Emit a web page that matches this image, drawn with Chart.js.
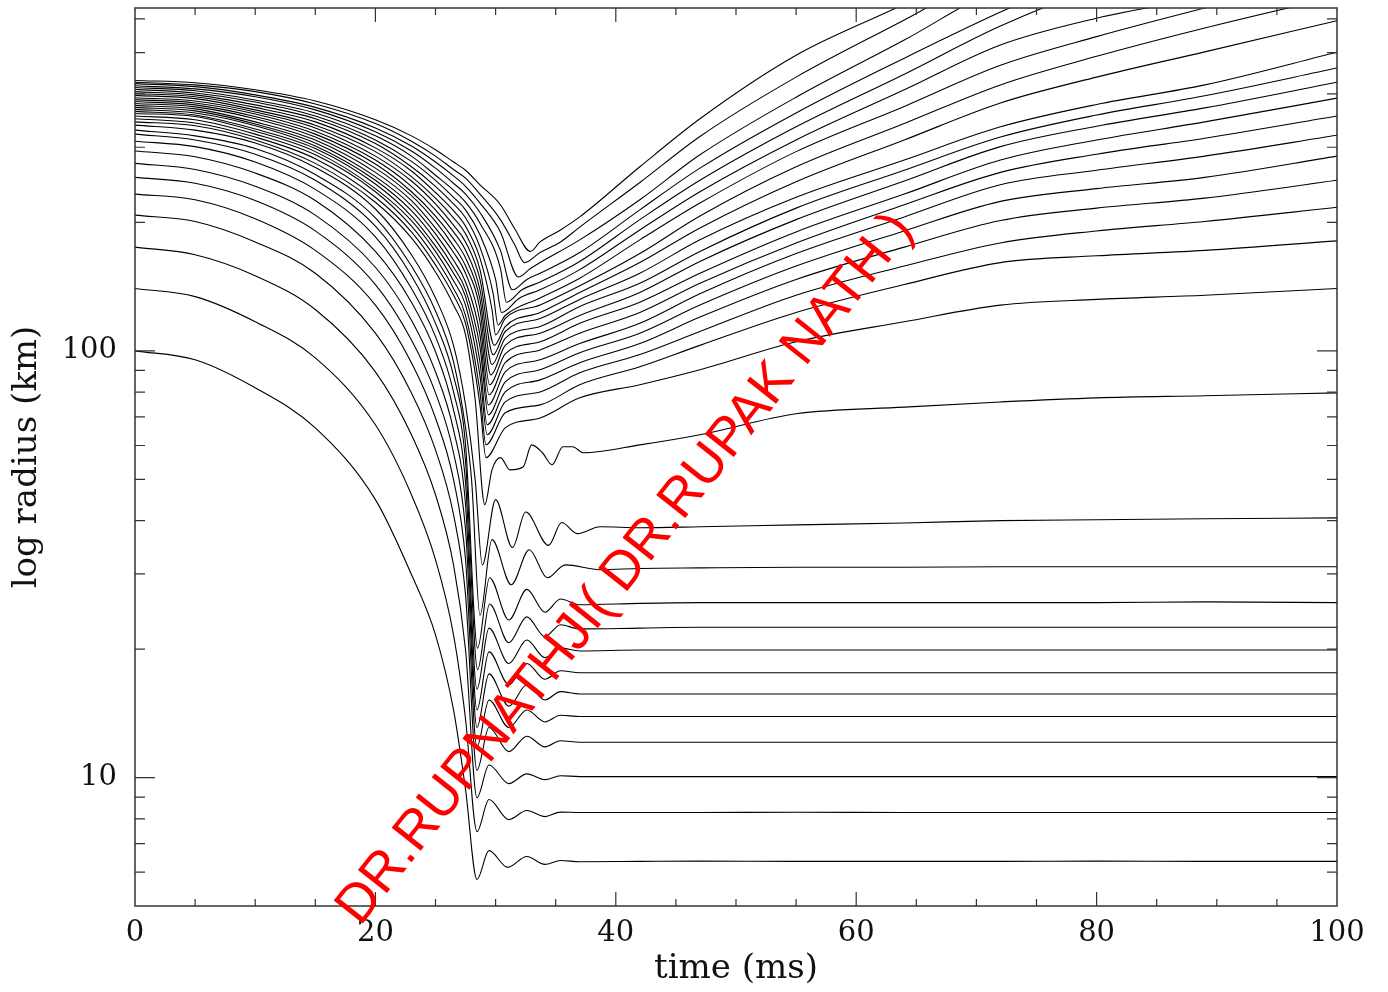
<!DOCTYPE html>
<html>
<head>
<meta charset="utf-8">
<script src="https://cdn.jsdelivr.net/npm/chart.js@4.4.1/dist/chart.umd.min.js"></script>
<style>
  html, body { margin: 0; padding: 0; background: #fff; }
  #wrap { width: 1388px; height: 992px; }
</style>
</head>
<body>
<div id="wrap"><canvas id="radius"></canvas></div>
<script>
// collapse phase, shared time grid (ms)
var collapseTimes = [0, 5, 10, 15, 20, 23, 25, 26.5, 27.5];

// radius (km) of each mass shell on collapseTimes, innermost first
var collapseRadius = [
    [100, 95.3, 81.9, 66.0, 44.8, 29.9, 21.6, 14.4, 9.37],
    [140, 134, 117, 96.3, 67.1, 46.0, 32.4, 21.6, 13.7],
    [175, 168, 150, 125, 89.3, 63.6, 46.0, 31.5, 19.9],
    [208, 201, 180, 152, 110, 79.7, 58.6, 41.3, 26.8],
    [233, 226, 204, 172, 128, 93.8, 69.6, 49.9, 32.4],
    [255, 247, 225, 191, 143, 106, 79.7, 57.7, 38.1],
    [275, 266, 243, 208, 157, 118, 89.3, 65.3, 43.6],
    [294, 285, 261, 225, 171, 130, 99.5, 72.7, 49.1],
    [310, 301, 277, 239, 185, 140, 108, 80.1, 55.0],
    [322, 312, 289, 251, 196, 150, 116, 87.4, 60.2],
    [329, 319, 298, 259, 205, 158, 124, 94.2, 66.0],
    [338, 329, 307, 269, 215, 168, 133, 103, 74.7],
    [344, 337, 312, 275, 223, 184, 153, 128, 109],
    [350, 342, 317, 282, 229, 190, 159, 135, 116],
    [355, 348, 322, 288, 236, 196, 165, 140, 121],
    [360, 354, 327, 293, 240, 202, 171, 146, 128],
    [364, 357, 331, 298, 246, 207, 176, 152, 134],
    [368, 361, 337, 302, 251, 213, 182, 157, 139],
    [372, 365, 340, 307, 256, 219, 188, 163, 145],
    [376, 369, 344, 312, 262, 225, 194, 170, 152],
    [380, 373, 350, 317, 268, 231, 201, 176, 158],
    [384, 377, 354, 322, 274, 236, 207, 183, 165],
    [388, 381, 359, 327, 280, 243, 214, 190, 172],
    [392, 385, 363, 333, 286, 250, 221, 197, 180],
    [397, 390, 367, 338, 293, 256, 228, 205, 188],
    [401, 394, 372, 344, 299, 264, 235, 213, 196],
    [405, 398, 377, 350, 306, 270, 243, 221, 205],
    [410, 402, 383, 355, 312, 278, 251, 229, 214],
    [414, 407, 387, 361, 319, 286, 258, 238, 223],
    [418, 411, 394, 367, 326, 294, 268, 247, 233],
    [423, 416, 398, 372, 333, 302, 277, 257, 243],
    [426, 420, 405, 379, 341, 310, 286, 266, 254],
    [430, 425, 409, 385, 348, 319, 296, 277, 265]
];

// bounce and ringing, [time ms, radius km] per shell
var bounce = [
    [[28.45, 5.77], [29.45, 6.74], [31.0, 6.16], [32.6, 6.53], [34.1, 6.26], [35.4, 6.39], [37.0, 6.35]],
    [[28.45, 7.47], [29.45, 8.88], [31.1, 7.97], [32.6, 8.37], [34.1, 8.10], [35.4, 8.30], [37.0, 8.28]],
    [[28.45, 8.97], [29.45, 10.7], [31.1, 9.68], [32.6, 10.2], [34.1, 9.89], [35.4, 10.1], [37.0, 10.05]],
    [[28.45, 10.4], [29.45, 13.1], [31.1, 11.5], [32.6, 12.5], [34.1, 11.8], [35.4, 12.2], [37.0, 12.1]],
    [[28.45, 11.8], [29.45, 15.2], [31.1, 13.1], [32.6, 14.4], [34.1, 13.5], [35.4, 14.0], [37.0, 13.9]],
    [[28.45, 13.1], [29.45, 17.5], [31.1, 14.7], [32.6, 16.5], [34.1, 15.2], [35.4, 15.9], [37.0, 15.7]],
    [[28.45, 14.4], [29.45, 19.7], [31.1, 16.5], [32.6, 18.5], [34.1, 17.0], [35.4, 17.8], [37.0, 17.6]],
    [[28.45, 16.1], [29.45, 22.4], [31.1, 18.5], [32.6, 21.0], [34.1, 19.1], [35.4, 20.1], [37.0, 19.8]],
    [[28.5, 17.9], [29.5, 25.5], [31.1, 20.7], [32.6, 23.8], [34.1, 21.4], [35.4, 22.8], [37.0, 22.3]],
    [[28.5, 20.1], [29.5, 29.4], [31.1, 23.4], [32.6, 27.6], [34.1, 24.4], [35.4, 26.2], [37.0, 25.4]],
    [[28.0, 49.9], [28.7, 24.0], [29.7, 36.1], [31.3, 28.3], [32.8, 34.2], [34.3, 29.4], [35.8, 31.5], [38.7, 30.7]],
    [[28.3, 49.9], [28.9, 31.5], [30.0, 44.8], [31.4, 34.6], [32.5, 41.9], [34.4, 35.0], [35.5, 39.6], [36.8, 37.3], [38.7, 38.7]],
    [[28.3, 76.8], [29.1, 43.6], [29.7, 52.6], [30.4, 56.2], [31.2, 52.6], [32.3, 53.5], [33.0, 60.2], [33.9, 57.7], [34.7, 54.1], [35.6, 59.6], [36.4, 59.6], [37.3, 57.7]],
    [[28.7, 74.7], [29.2, 56.2], [30.8, 66.0], [33.7, 69.6], [37.0, 77.6]],
    [[28.7, 80.1], [29.2, 60.2], [30.8, 71.6], [33.7, 74.7], [37.0, 83.3]],
    [[28.7, 87.4], [29.3, 63.6], [30.8, 75.9], [33.7, 80.1], [37.0, 88.8]],
    [[28.7, 94.2], [29.3, 67.1], [30.8, 80.1], [33.7, 85.5], [37.0, 93.8]],
    [[28.7, 102], [29.4, 70.8], [30.8, 84.6], [33.7, 90.3], [37.0, 99.0]],
    [[28.7, 109], [29.4, 74.7], [30.8, 89.3], [33.7, 95.3], [37.0, 104]],
    [[28.7, 117], [29.45, 78.9], [30.8, 93.8], [33.7, 100.5], [37.0, 110]],
    [[28.7, 125], [29.5, 83.3], [30.8, 98.4], [33.7, 105], [37.0, 116]],
    [[28.7, 132], [29.6, 87.8], [30.8, 103], [33.7, 110], [37.0, 121]],
    [[28.7, 139], [29.7, 92.8], [30.8, 107], [33.7, 114], [37.0, 127]],
    [[28.7, 147], [29.8, 97.9], [30.8, 111], [33.7, 119], [37.0, 132]],
    [[28.7, 155], [29.9, 103], [30.8, 114], [33.7, 123], [37.0, 137]],
    [[28.7, 165], [29.7, 125], [30.0, 109], [30.8, 119], [33.7, 128], [37.0, 142]],
    [[28.7, 175], [29.8, 136], [30.2, 115], [30.8, 121], [33.7, 133], [37.0, 148]],
    [[28.7, 187], [30.0, 147], [30.5, 123], [32.0, 133], [33.7, 139], [37.0, 155]],
    [[28.7, 199], [30.4, 156], [30.9, 130], [32.2, 139], [33.7, 145], [37.0, 162]],
    [[28.7, 211], [30.4, 172], [31.4, 139], [32.6, 147], [33.7, 152], [37.0, 170]],
    [[28.7, 222], [30.4, 190], [31.9, 149], [32.9, 156], [33.7, 161], [37.0, 182]],
    [[28.7, 233], [30.4, 203], [31.6, 177], [32.4, 161], [33.7, 170], [35.4, 180], [37.0, 195]],
    [[28.7, 245], [30.4, 220], [31.6, 193], [32.9, 171], [33.7, 180], [35.4, 192], [37.0, 206]]
];

// late phase, shared time grid (ms)
var lateTimes = [42, 47, 55, 64, 72, 80, 89, 100];

var lateRadius = [
    [6.36, 6.37, 6.36, 6.36, 6.36, 6.37, 6.36, 6.36],
    [8.28, 8.28, 8.29, 8.28, 8.28, 8.28, 8.28, 8.28],
    [10.05, 10.05, 10.05, 10.05, 10.05, 10.05, 10.05, 10.05],
    [12.1, 12.1, 12.1, 12.1, 12.1, 12.1, 12.1, 12.1],
    [13.9, 13.9, 13.9, 13.9, 13.9, 13.9, 13.9, 13.9],
    [15.7, 15.7, 15.7, 15.7, 15.7, 15.7, 15.7, 15.7],
    [17.6, 17.6, 17.6, 17.6, 17.6, 17.6, 17.6, 17.6],
    [19.9, 19.9, 19.9, 19.9, 19.9, 19.9, 19.9, 19.9],
    [22.4, 22.5, 22.5, 22.5, 22.5, 22.5, 22.5, 22.5],
    [25.6, 25.7, 25.7, 25.7, 25.7, 25.7, 25.8, 25.7],
    [30.9, 31.0, 31.1, 31.1, 31.2, 31.2, 31.2, 31.2],
    [38.5, 38.7, 39.1, 39.5, 40.0, 40.2, 40.4, 40.6],
    [60.2, 63.6, 71.2, 73.8, 75.9, 77.6, 78.5, 79.7],
    [83.3, 90.3, 105, 117, 128, 132, 135, 140],
    [91.8, 103, 123, 143, 161, 167, 172, 181],
    [98, 111, 135, 158, 179, 191, 201, 217],
    [104, 120, 147, 175, 202, 216, 228, 251],
    [110, 128, 158, 191, 224, 240, 255, 286],
    [116, 136, 169, 206, 245, 265, 286, 320],
    [123, 144, 179, 220, 262, 289, 315, 355],
    [130, 152, 190, 233, 280, 312, 344, 391],
    [137, 162, 203, 250, 301, 336, 371, 426],
    [144, 171, 216, 265, 317, 357, 396, 460],
    [152, 182, 229, 280, 335, 378, 420, 501],
    [161, 194, 249, 312, 381, 438, 502, 594],
    [169, 207, 270, 341, 420, 490, 571, 677],
    [182, 222, 293, 374, 467, 545, 636, 761],
    [192, 236, 312, 409, 521, 602, 677, 823],
    [203, 251, 335, 445, 577, 708, 823, 1020],
    [214, 268, 361, 485, 622, 780, 907, 1137],
    [226, 288, 393, 535, 711, 823, 952, 1200],
    [248, 318, 438, 596, 784, 907, 1058, 1333],
    [270, 350, 493, 650, 849, 1075, 1365, 1850]
];

var yMajor = [10, 100];
var yMinor = [6, 7, 8, 9, 20, 30, 40, 50, 60, 70, 80, 90, 200, 300, 400, 500, 600];
var stamp = 'DR.RUPNATHJI( DR.RUPAK NATH )';

var serif = '"DejaVu Serif", "Liberation Serif", serif';

function buildShell(i) {
    var pts = [];
    var k;
    for (k = 0; k < collapseTimes.length; k++) {
        pts.push({x: collapseTimes[k], y: collapseRadius[i][k]});
    }
    for (k = 0; k < bounce[i].length; k++) {
        pts.push({x: bounce[i][k][0], y: bounce[i][k][1]});
    }
    for (k = 0; k < lateTimes.length; k++) {
        pts.push({x: lateTimes[k], y: lateRadius[i][k]});
    }
    return pts;
}

var datasets = [];
for (var i = 0; i < collapseRadius.length; i++) {
    datasets.push({
        data: buildShell(i),
        borderColor: '#000',
        borderWidth: 1.1,
        pointRadius: 0,
        cubicInterpolationMode: 'monotone',
        fill: false
    });
}

// box, inward ticks on all four sides, and the red stamp on top
var frame = {
    id: 'frame',
    afterDatasetsDraw: function (chart) {
        var ctx = chart.ctx;
        var a = chart.chartArea;
        var xs = chart.scales.x;
        var ys = chart.scales.y;
        ctx.save();
        ctx.strokeStyle = '#333';
        ctx.lineWidth = 1.5;
        ctx.strokeRect(a.left, a.top, a.right - a.left, a.bottom - a.top);

        ctx.lineWidth = 1.2;
        ctx.beginPath();
        for (var v = 5; v < 100; v += 5) {
            var px = xs.getPixelForValue(v);
            var len = (v % 20 === 0) ? 14 : 7;
            ctx.moveTo(px, a.bottom);
            ctx.lineTo(px, a.bottom - len);
            ctx.moveTo(px, a.top);
            ctx.lineTo(px, a.top + len);
        }
        yMinor.concat(yMajor).forEach(function (val) {
            var py = ys.getPixelForValue(val);
            var len = yMajor.indexOf(val) >= 0 ? 20 : 10;
            ctx.moveTo(a.left, py);
            ctx.lineTo(a.left + len, py);
            ctx.moveTo(a.right, py);
            ctx.lineTo(a.right - len, py);
        });
        ctx.stroke();

        ctx.translate(360, 927);
        ctx.rotate(-51.5 * Math.PI / 180);
        ctx.font = '54px "Liberation Sans", Arial, sans-serif';
        ctx.fillStyle = '#ff0000';
        ctx.textBaseline = 'alphabetic';
        ctx.fillText(stamp, 0, 0);
        ctx.restore();
    }
};

new Chart(document.getElementById('radius'), {
    type: 'line',
    data: { datasets: datasets },
    options: {
        responsive: true,
        maintainAspectRatio: false,
        animation: false,
        events: [],
        layout: { padding: { top: 8, right: 51, left: 0, bottom: 0 } },
        plugins: {
            legend: { display: false },
            tooltip: { enabled: false }
        },
        scales: {
            x: {
                type: 'linear',
                min: 0,
                max: 100,
                grid: { display: false, drawTicks: false },
                border: { display: false },
                ticks: {
                    stepSize: 20,
                    maxRotation: 0,
                    autoSkip: false,
                    padding: 10,
                    color: '#111',
                    font: { family: serif, size: 29 }
                },
                title: {
                    display: true,
                    text: 'time (ms)',
                    color: '#111',
                    font: { family: serif, size: 34 },
                    padding: { top: 0, bottom: 2 }
                },
                afterFit: function (s) {
                    s.height = 86;
                    s.paddingLeft = 0;
                    s.paddingRight = 0;
                }
            },
            y: {
                type: 'logarithmic',
                min: 5,
                max: 636,
                grid: { display: false, drawTicks: false },
                border: { display: false },
                afterBuildTicks: function (s) {
                    s.ticks = yMajor.map(function (v) { return { value: v }; });
                },
                ticks: {
                    padding: 18,
                    color: '#111',
                    font: { family: serif, size: 29 },
                    callback: function (v) { return String(v); }
                },
                title: {
                    display: true,
                    text: 'log radius (km)',
                    color: '#111',
                    font: { family: serif, size: 34 },
                    padding: { top: 7, bottom: 0 }
                },
                afterFit: function (s) {
                    s.width = 135;
                    s.paddingTop = 0;
                    s.paddingBottom = 0;
                }
            }
        }
    },
    plugins: [frame]
});
</script>
</body>
</html>
